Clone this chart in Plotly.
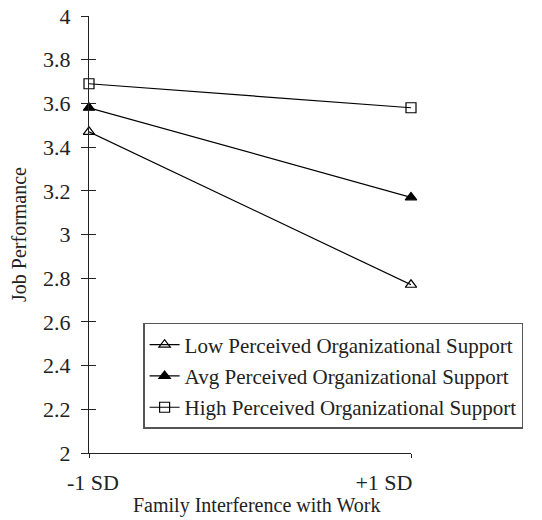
import plotly.graph_objects as go

x_labels = ["-1 SD", "+1 SD"]
x_pos = [0, 1]
low_pos = [3.47, 2.77]
avg_pos = [3.58, 3.17]
high_pos = [3.69, 3.58]
series_names = ["Low Perceived Organizational Support",
                "Avg Perceived Organizational Support",
                "High Perceived Organizational Support"]
y_ticks = [2, 2.2, 2.4, 2.6, 2.8, 3, 3.2, 3.4, 3.6, 3.8, 4]
y_tick_text = ["2", "2.2", "2.4", "2.6", "2.8", "3", "3.2", "3.4", "3.6", "3.8", "4"]
x_title = "Family Interference with Work"
y_title = "Job Performance"

# layout: where the category labels sit along the axis (Excel-style placement)
LABEL_POS = [0.012, 0.916]

FONT = "Liberation Serif, Times New Roman, serif"
fig = go.Figure()
symbols = ["triangle-up-open", "triangle-up", "square-open"]
for name, vals, sym in zip(series_names, [low_pos, avg_pos, high_pos], symbols):
    fig.add_trace(go.Scatter(
        x=x_pos, y=vals, name=name, mode="lines+markers",
        line=dict(color="black", width=1.2),
        marker=dict(symbol=sym, size=10, color="black", line=dict(color="black", width=1.2)),
        cliponaxis=False, legendgroup=name,
    ))
# invisible helpers so the overlay axes render
fig.add_trace(go.Scatter(x=[0], y=[2], yaxis="y2", showlegend=False,
                         mode="markers", marker=dict(opacity=0), hoverinfo="skip"))
fig.add_trace(go.Scatter(x=[0], y=[2], xaxis="x2", showlegend=False,
                         mode="markers", marker=dict(opacity=0), hoverinfo="skip"))

fig.update_layout(
    width=534, height=512,
    margin=dict(l=81, r=131, t=8, b=67),
    paper_bgcolor="white", plot_bgcolor="white",
    font=dict(family=FONT, color="#222", size=20),
    showlegend=True,
    legend=dict(
        x=0.168, y=0.2975, xanchor="left", yanchor="top",
        bgcolor="white", bordercolor="#555", borderwidth=1.5,
        font=dict(family=FONT, size=21, color="#222"),
        tracegroupgap=1, itemwidth=30,
    ),
    xaxis=dict(
        range=[0, 1], tickvals=x_pos, ticktext=x_labels,
        showline=True, linecolor="#222", linewidth=1.3,
        ticks="outside", ticklen=4, tickcolor="#222",
        showticklabels=False,
        showgrid=False, zeroline=False, automargin=False,
    ),
    xaxis2=dict(
        range=[0, 1], tickvals=LABEL_POS, ticktext=x_labels,
        overlaying="x", side="bottom", anchor="y",
        showline=False, ticks="", showgrid=False, zeroline=False,
        tickfont=dict(family=FONT, size=22, color="#222"),
        ticklabelstandoff=14, ticklabeloverflow="allow", automargin=False,
    ),
    yaxis=dict(
        range=[2, 4], tickvals=y_ticks, ticktext=y_tick_text,
        showline=True, linecolor="#222", linewidth=1.3,
        ticks="outside", ticklen=7, tickcolor="#222",
        showgrid=False, zeroline=False,
        tickfont=dict(family=FONT, size=22, color="#222"),
        ticklabelstandoff=6, ticklabeloverflow="allow",
        title=dict(text=y_title,
                   font=dict(family=FONT, size=20, color="#222"), standoff=24),
        automargin=False,
    ),
    yaxis2=dict(
        range=[2, 4], tickvals=y_ticks, overlaying="y", side="left", anchor="x",
        showticklabels=False, ticks="inside", ticklen=7, tickcolor="#222",
        showline=False, showgrid=False, zeroline=False,
    ),
    annotations=[dict(
        text=x_title, xref="paper", yref="paper", x=0.52, y=-0.121,
        xanchor="center", yanchor="middle", showarrow=False,
        font=dict(family=FONT, size=20, color="#222"),
    )],
)

fig.write_html("out.html")
